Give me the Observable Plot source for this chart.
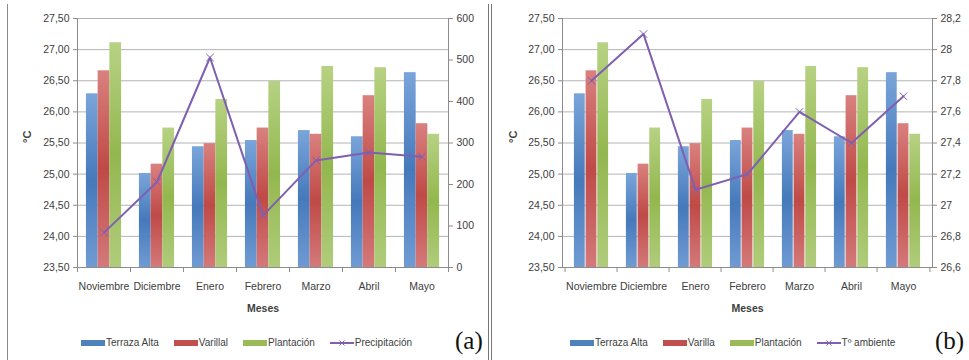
<!DOCTYPE html>
<html>
<head>
<meta charset="utf-8">
<script src="https://cdn.jsdelivr.net/npm/d3@7"></script>
<script src="https://cdn.jsdelivr.net/npm/@observablehq/plot@0.6"></script>
<style>
  html, body { margin: 0; padding: 0; background: #fff; }
  #root { position: relative; width: 969px; height: 360px; overflow: hidden; font-family: "Liberation Sans", Arial, sans-serif; color: #404040; }
  .panel { position: absolute; top: 0; height: 360px; }
  .legend { position: absolute; top: 337px; display: flex; align-items: center; font-size: 10px; color: #404040; white-space: nowrap; }
  .legend .item { display: flex; align-items: center; margin-right: 15px; }
  .legend .sw { width: 24px; height: 6px; margin-right: 1px; }
  .legend svg { margin-right: 1px; }
  .tag { position: absolute; top: 327px; font-family: "Liberation Serif", "DejaVu Serif", serif; font-size: 25px; color: #111; }
  .vline { position: absolute; top: 4px; bottom: 0; width: 1px; background: #8a8a8a; }
</style>
</head>
<body>
<svg width="0" height="0" style="position:absolute">
  <defs>
    <linearGradient id="gBlue" x1="0" y1="0" x2="0" y2="1">
      <stop offset="0" stop-color="#7aa5da"/><stop offset="0.5" stop-color="#4679bb"/><stop offset="1" stop-color="#6f9bd3"/>
    </linearGradient>
    <linearGradient id="gRed" x1="0" y1="0" x2="0" y2="1">
      <stop offset="0" stop-color="#d9817f"/><stop offset="0.5" stop-color="#bf4a47"/><stop offset="1" stop-color="#d4797a"/>
    </linearGradient>
    <linearGradient id="gGreen" x1="0" y1="0" x2="0" y2="1">
      <stop offset="0" stop-color="#b7d283"/><stop offset="0.5" stop-color="#93b74f"/><stop offset="1" stop-color="#b0cc7b"/>
    </linearGradient>
  </defs>
</svg>
<div id="root">
  <div class="vline" style="left:7px"></div>
  <div class="vline" style="left:488px;background:#777"></div>
  <div class="vline" style="left:491px;background:#777"></div>
  <div class="panel" id="pa" style="left:0;width:488px"></div>
  <div class="panel" id="pb" style="left:492px;width:477px"></div>
  <div class="tag" style="left:455px">(a)</div>
  <div class="tag" style="left:935px">(b)</div>
</div>
<script>
const months = ["Noviembre", "Diciembre", "Enero", "Febrero", "Marzo", "Abril", "Mayo"];
const terrazaAlta = [26.29, 25.01, 25.44, 25.54, 25.70, 25.60, 26.63];
const varillal = [26.66, 25.16, 25.49, 25.74, 25.64, 26.26, 25.81];
const plantacion = [27.11, 25.74, 26.20, 26.49, 26.73, 26.71, 25.64];
const precipitacion = [84, 206, 506, 125, 258, 277, 267];
const tAmbiente = [27.8, 28.1, 27.1, 27.2, 27.6, 27.4, 27.7];
const tempTicks = [23.5, 24, 24.5, 25, 25.5, 26, 26.5, 27, 27.5];
const precipTicks = [0, 100, 200, 300, 400, 500, 600];
const ambTicks = [26.6, 26.8, 27, 27.2, 27.4, 27.6, 27.8, 28, 28.2];
const seriesNames = ["Terraza Alta", "Varillal", "Plantación"];
const seriesNamesB = ["Terraza Alta", "Varilla", "Plantación"];
const fills = ["url(#gBlue)", "url(#gRed)", "url(#gGreen)"];
const swatchColors = ["#4f81bd", "#c0504d", "#9bbb59"];
const lineColor = "#7f5fb0";

function rows(vals) { return months.map((m, i) => ({month: m, value: vals[i]})); }

function makePanel(cfg) {
  const {width, marginLeft, marginRight, secTicks, toPrimary, fromPrimary, secFormat, lineVals, yLabelDx} = cfg;
  const marginTop = 18, plotBottom = 267, height = 325;
  const bw = (width - marginLeft - marginRight) / months.length;
  const barW = bw * 0.221;
  const off = (bw - 3 * barW) / 2;
  const series = [terrazaAlta, varillal, plantacion];
  const unitsPerPx = 4 / (plotBottom - marginTop);
  const bars = series.map((vals, k) => Plot.barY(rows(vals), {
    x: "month", y1: 23.5, y2: "value",
    fill: fills[k],
    insetLeft: off + k * barW,
    insetRight: bw - off - (k + 1) * barW
  }));
  const lineData = rows(lineVals).map(d => ({month: d.month, y: toPrimary(d.value)}));
  const chart = Plot.plot({
    width, height,
    marginLeft, marginRight, marginTop, marginBottom: height - plotBottom,
    style: {fontFamily: "'Liberation Sans', Arial, sans-serif", fontSize: "10.5px", color: "#404040", background: "transparent", overflow: "visible"},
    x: {type: "band", domain: months, padding: 0, axis: null},
    y: {domain: [23.5, 27.5], axis: null},
    marks: [
      Plot.gridY(tempTicks, {stroke: "#b4b4b4", strokeOpacity: 1}),
      ...bars,
      Plot.ruleY([23.5], {stroke: "#8c8c8c"}),
      Plot.ruleX(months, {x: d => d, y1: 23.5, y2: 23.5 - 5 * unitsPerPx, dx: -bw / 2, stroke: "#8c8c8c"}),
      Plot.ruleX([months[months.length - 1]], {x: d => d, y1: 23.5, y2: 23.5 - 5 * unitsPerPx, dx: bw / 2, stroke: "#8c8c8c"}),
      Plot.frame({anchor: "left", stroke: "#8c8c8c"}),
      Plot.frame({anchor: "right", stroke: "#8c8c8c"}),
      Plot.axisY(tempTicks, {anchor: "left", tickSize: 4, tickPadding: 4, stroke: "#8c8c8c", tickFormat: d => d.toFixed(2).replace(".", ","), label: null}),
      Plot.axisY(secTicks.map(toPrimary), {anchor: "right", tickSize: 4, tickPadding: 4, stroke: "#8c8c8c", tickFormat: d => secFormat(fromPrimary(d)), label: null}),
      Plot.axisX({tickSize: 0, tickPadding: 15, label: null}),
      Plot.line(lineData, {x: "month", y: "y", stroke: lineColor, strokeWidth: 2}),
      Plot.dot(lineData, {x: "month", y: "y", symbol: "times", r: 3.5, stroke: lineColor, strokeWidth: 1}),
      Plot.text(["Meses"], {frameAnchor: "bottom", dy: 44, fontWeight: "bold", fontSize: 10.5, fill: "#404040"}),
      Plot.text(["°C"], {frameAnchor: "left", dx: yLabelDx, rotate: -90, fontWeight: "bold", fontSize: 11, fill: "#404040"})
    ]
  });
  return chart;
}

function legend(names, lineName, left) {
  const div = document.createElement("div");
  div.className = "legend";
  div.style.left = left + "px";
  names.forEach((n, k) => {
    const it = document.createElement("div");
    it.className = "item";
    const sw = document.createElement("div");
    sw.className = "sw";
    sw.style.background = swatchColors[k];
    it.appendChild(sw);
    const t = document.createElement("span");
    t.textContent = n;
    it.appendChild(t);
    div.appendChild(it);
  });
  const it = document.createElement("div");
  it.className = "item";
  it.innerHTML = `<svg width="24" height="10"><line x1="0" y1="5" x2="24" y2="5" stroke="${lineColor}" stroke-width="2"/><path d="M9.5,2.5L14.5,7.5M14.5,2.5L9.5,7.5" stroke="${lineColor}" stroke-width="1"/></svg>`;
  const t = document.createElement("span");
  t.textContent = lineName;
  it.appendChild(t);
  div.appendChild(it);
  return div;
}

const pa = document.getElementById("pa");
pa.appendChild(makePanel({
  width: 488, marginLeft: 77, marginRight: 40,
  secTicks: precipTicks,
  toPrimary: v => 23.5 + v / 150,
  fromPrimary: y => (y - 23.5) * 150,
  secFormat: v => String(Math.round(v)),
  lineVals: precipitacion,
  yLabelDx: -50
}));
pa.appendChild(legend(seriesNames, "Precipitación", 81));

const pb = document.getElementById("pb");
pb.appendChild(makePanel({
  width: 477, marginLeft: 70, marginRight: 37,
  secTicks: ambTicks,
  toPrimary: v => 23.5 + (v - 26.6) * 2.5,
  fromPrimary: y => 26.6 + (y - 23.5) / 2.5,
  secFormat: v => String(+v.toFixed(1)).replace(".", ","),
  lineVals: tAmbiente,
  yLabelDx: -49
}));
pb.appendChild(legend(seriesNamesB, "Tº ambiente", 78));
</script>
</body>
</html>
